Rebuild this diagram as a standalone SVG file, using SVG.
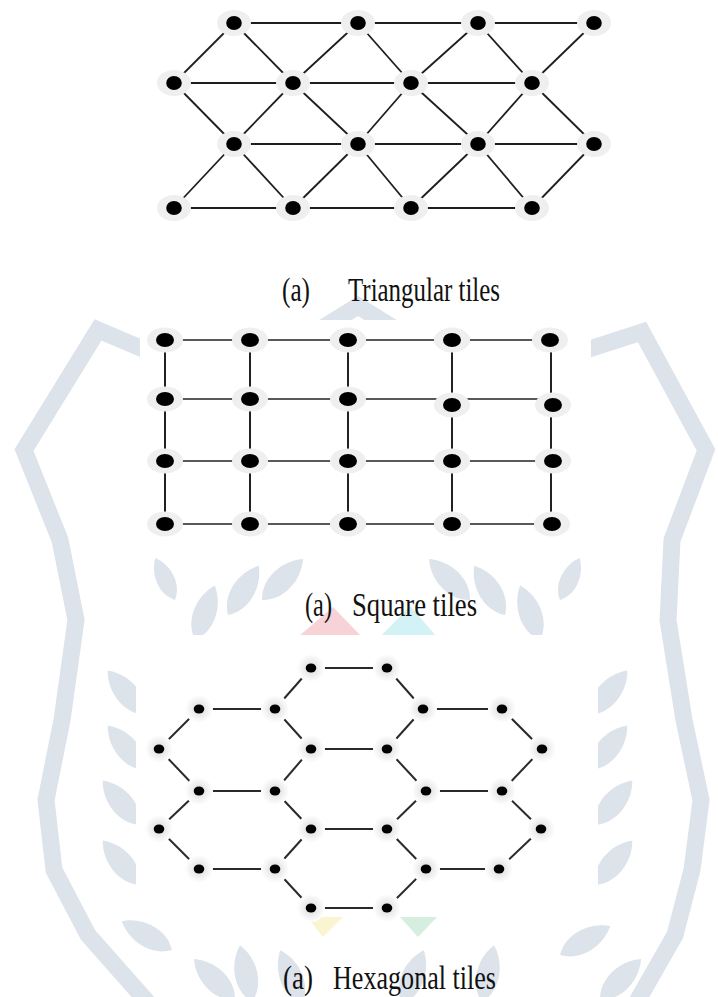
<svg xmlns="http://www.w3.org/2000/svg" width="718" height="997" viewBox="0 0 718 997">
  <style>
    .wm { fill: #dde3ea; }
    .band { fill: none; stroke: #dde3ea; stroke-width: 17; stroke-linejoin: miter; }
    .panel { fill: #ffffff; }
    .tri line { stroke: #1e1e1e; stroke-width: 1.8; }
    .sq line { stroke: #222; stroke-width: 1.4; }
    .sq line.v { stroke-width: 2; }
    .hx line { stroke: #2a2a2a; stroke-width: 2; }
    .halo { fill: #efefef; }
    .dot { fill: #000; }
    .hhalo { fill: url(#hexHalo); }
    .lbl { font-family: "Liberation Serif", "Times New Roman", serif; font-size: 25.5px; fill: #111; }
  </style>
  <defs>
    <radialGradient id="hexHalo">
      <stop offset="0" stop-color="#d8d8d8"/>
      <stop offset="0.55" stop-color="#eeeeee"/>
      <stop offset="1" stop-color="#ffffff"/>
    </radialGradient>
    <path id="leaf" d="M0,0 C-16,-15 -14,-42 0,-58 C14,-42 16,-15 0,0 Z"/>
    <!-- triangular tile node -->
    <g id="tnode"><ellipse class="halo" rx="17" ry="13"/><ellipse class="dot" rx="7.8" ry="7"/></g>
    <!-- square tile node -->
    <g id="snode"><ellipse class="halo" rx="18" ry="12.5"/><ellipse class="dot" rx="9" ry="7"/></g>
    <!-- hexagonal tile node -->
    <g id="hnode"><circle class="hhalo" r="14"/><ellipse class="dot" rx="5.3" ry="4.5"/></g>
  </defs>

  <rect width="718" height="997" fill="#ffffff"/>

  <!-- faint crest in the background -->
  <g id="crest">
    <path class="band" d="M150,352 L98,330 L24,450 L60,540 L76,620 L62,720 L46,800 L54,870 L88,935 L150,1005"/>
    <path class="band" d="M580,352 L642,332 L706,450 L672,540 L668,620 L684,720 L701,800 L692,870 L675,935 L635,1005"/>
    <path class="band" d="M150,352 L300,342 L358,306 L416,342 L580,352"/>
    <g class="wm">
      <!-- left laurel -->
      <use href="#leaf" transform="translate(145,715) rotate(-40)"/>
      <use href="#leaf" transform="translate(145,770) rotate(-40)"/>
      <use href="#leaf" transform="translate(140,825) rotate(-40)"/>
      <use href="#leaf" transform="translate(140,885) rotate(-40)"/>
      <use href="#leaf" transform="translate(172,950) rotate(-60)"/>
      <use href="#leaf" transform="translate(235,1000) rotate(-45)"/>
      <use href="#leaf" transform="translate(252,1002) rotate(-12)"/>
      <use href="#leaf" transform="translate(302,1004) rotate(-22)"/>
      <use href="#leaf" transform="translate(195,640) rotate(20)"/>
      <use href="#leaf" transform="translate(228,615) rotate(32)"/>
      <use href="#leaf" transform="translate(262,600) rotate(45)"/>
      <use href="#leaf" transform="translate(175,600) rotate(-25) scale(0.8)"/>
      <!-- right laurel -->
      <use href="#leaf" transform="translate(590,715) rotate(40)"/>
      <use href="#leaf" transform="translate(590,770) rotate(40)"/>
      <use href="#leaf" transform="translate(595,825) rotate(40)"/>
      <use href="#leaf" transform="translate(595,885) rotate(40)"/>
      <use href="#leaf" transform="translate(560,955) rotate(60)"/>
      <use href="#leaf" transform="translate(600,1000) rotate(45)"/>
      <use href="#leaf" transform="translate(482,1002) rotate(12)"/>
      <use href="#leaf" transform="translate(402,1004) rotate(22)"/>
      <use href="#leaf" transform="translate(540,640) rotate(-20)"/>
      <use href="#leaf" transform="translate(505,615) rotate(-32)"/>
      <use href="#leaf" transform="translate(470,600) rotate(-45)"/>
      <use href="#leaf" transform="translate(560,600) rotate(25) scale(0.8)"/>
    </g>
    <polygon points="298,637 333,607 362,637" fill="#f7d3d8"/>
    <polygon points="380,637 410,606 437,637" fill="#d3f2f6"/>
    <polygon points="307,917 343,917 323,937" fill="#faf5d0"/>
    <polygon points="400,917 437,917 418,937" fill="#d5eedf"/>
  </g>

  <!-- white backing panels -->
  <rect class="panel" x="140" y="320" width="451" height="225"/>
  <rect class="panel" x="136" y="635" width="462" height="282"/>

  <!-- triangular tiling -->
  <g id="triangular" class="tri">
    <g id="tri-connectors">
      <line x1="234" y1="23" x2="594" y2="23"/>
      <line x1="174" y1="83" x2="532" y2="83"/>
      <line x1="234" y1="144" x2="594" y2="144"/>
      <line x1="174" y1="208" x2="532" y2="208"/>
      <line x1="234" y1="23" x2="174" y2="83"/>
      <line x1="234" y1="23" x2="293" y2="83"/>
      <line x1="358" y1="23" x2="293" y2="83"/>
      <line x1="358" y1="23" x2="411" y2="83"/>
      <line x1="478" y1="23" x2="411" y2="83"/>
      <line x1="478" y1="23" x2="532" y2="83"/>
      <line x1="594" y1="23" x2="532" y2="83"/>
      <line x1="174" y1="83" x2="234" y2="144"/>
      <line x1="293" y1="83" x2="234" y2="144"/>
      <line x1="293" y1="83" x2="358" y2="144"/>
      <line x1="411" y1="83" x2="358" y2="144"/>
      <line x1="411" y1="83" x2="478" y2="144"/>
      <line x1="532" y1="83" x2="478" y2="144"/>
      <line x1="532" y1="83" x2="594" y2="144"/>
      <line x1="234" y1="144" x2="174" y2="208"/>
      <line x1="234" y1="144" x2="293" y2="208"/>
      <line x1="358" y1="144" x2="293" y2="208"/>
      <line x1="358" y1="144" x2="411" y2="208"/>
      <line x1="478" y1="144" x2="411" y2="208"/>
      <line x1="478" y1="144" x2="532" y2="208"/>
      <line x1="594" y1="144" x2="532" y2="208"/>
    </g>
    <g id="tri-nodes">
      <use href="#tnode" x="234" y="23"/><use href="#tnode" x="358" y="23"/><use href="#tnode" x="478" y="23"/><use href="#tnode" x="594" y="23"/>
      <use href="#tnode" x="174" y="83"/><use href="#tnode" x="293" y="83"/><use href="#tnode" x="411" y="83"/><use href="#tnode" x="532" y="83"/>
      <use href="#tnode" x="234" y="144"/><use href="#tnode" x="358" y="144"/><use href="#tnode" x="478" y="144"/><use href="#tnode" x="594" y="144"/>
      <use href="#tnode" x="174" y="208"/><use href="#tnode" x="293" y="208"/><use href="#tnode" x="411" y="208"/><use href="#tnode" x="532" y="208"/>
    </g>
  </g>
  <g id="label-triangular" class="lbl">
    <text transform="translate(282,301) scale(1,1.3)" textLength="28" lengthAdjust="spacingAndGlyphs">(a)</text>
    <text transform="translate(348,301) scale(1,1.3)" textLength="152" lengthAdjust="spacingAndGlyphs">Triangular tiles</text>
  </g>

  <!-- square tiling -->
  <g id="square" class="sq">
    <g id="sq-connectors">
      <line x1="165" y1="340" x2="550" y2="340"/>
      <line x1="165" y1="399" x2="553" y2="399"/>
      <line x1="165" y1="461" x2="553" y2="461"/>
      <line x1="165" y1="524" x2="552" y2="524"/>
      <line class="v" x1="165" y1="340" x2="165" y2="524"/>
      <line class="v" x1="250" y1="340" x2="250" y2="524"/>
      <line class="v" x1="348" y1="340" x2="348" y2="524"/>
      <line class="v" x1="452" y1="340" x2="452" y2="524"/>
      <line class="v" x1="551" y1="340" x2="551" y2="524"/>
    </g>
    <g id="sq-nodes">
      <use href="#snode" x="165" y="340"/><use href="#snode" x="250" y="340"/><use href="#snode" x="348" y="340"/><use href="#snode" x="452" y="340"/><use href="#snode" x="550" y="340"/>
      <use href="#snode" x="165" y="399"/><use href="#snode" x="250" y="399"/><use href="#snode" x="348" y="399"/><use href="#snode" x="452" y="405"/><use href="#snode" x="553" y="405"/>
      <use href="#snode" x="165" y="461"/><use href="#snode" x="250" y="461"/><use href="#snode" x="348" y="461"/><use href="#snode" x="452" y="461"/><use href="#snode" x="553" y="461"/>
      <use href="#snode" x="165" y="524"/><use href="#snode" x="250" y="524"/><use href="#snode" x="348" y="524"/><use href="#snode" x="452" y="524"/><use href="#snode" x="552" y="524"/>
    </g>
  </g>
  <g id="label-square" class="lbl">
    <text transform="translate(305,616) scale(1,1.3)" textLength="27" lengthAdjust="spacingAndGlyphs">(a)</text>
    <text transform="translate(352,616) scale(1,1.3)" textLength="125" lengthAdjust="spacingAndGlyphs">Square tiles</text>
  </g>

  <!-- hexagonal tiling -->
  <g id="hexagonal" class="hx">
    <g id="hx-connectors">
      <line x1="311" y1="668" x2="387" y2="668"/>
      <line x1="311" y1="668" x2="275" y2="709"/>
      <line x1="387" y1="668" x2="423" y2="709"/>
      <line x1="199" y1="709" x2="275" y2="709"/>
      <line x1="423" y1="709" x2="502" y2="709"/>
      <line x1="199" y1="709" x2="159" y2="749"/>
      <line x1="275" y1="709" x2="311" y2="749"/>
      <line x1="423" y1="709" x2="387" y2="749"/>
      <line x1="502" y1="709" x2="542" y2="749"/>
      <line x1="311" y1="749" x2="387" y2="749"/>
      <line x1="159" y1="749" x2="199" y2="791"/>
      <line x1="311" y1="749" x2="275" y2="791"/>
      <line x1="387" y1="749" x2="426" y2="791"/>
      <line x1="542" y1="749" x2="502" y2="791"/>
      <line x1="199" y1="791" x2="275" y2="791"/>
      <line x1="426" y1="791" x2="502" y2="791"/>
      <line x1="199" y1="791" x2="159" y2="829"/>
      <line x1="275" y1="791" x2="311" y2="829"/>
      <line x1="426" y1="791" x2="387" y2="829"/>
      <line x1="502" y1="791" x2="541" y2="829"/>
      <line x1="311" y1="829" x2="387" y2="829"/>
      <line x1="159" y1="829" x2="199" y2="869"/>
      <line x1="311" y1="829" x2="275" y2="869"/>
      <line x1="387" y1="829" x2="426" y2="869"/>
      <line x1="541" y1="829" x2="499" y2="869"/>
      <line x1="199" y1="869" x2="275" y2="869"/>
      <line x1="426" y1="869" x2="499" y2="869"/>
      <line x1="275" y1="869" x2="311" y2="908"/>
      <line x1="426" y1="869" x2="387" y2="908"/>
      <line x1="311" y1="908" x2="387" y2="908"/>
    </g>
    <g id="hx-nodes">
      <use href="#hnode" x="311" y="668"/><use href="#hnode" x="387" y="668"/>
      <use href="#hnode" x="199" y="709"/><use href="#hnode" x="275" y="709"/><use href="#hnode" x="423" y="709"/><use href="#hnode" x="502" y="709"/>
      <use href="#hnode" x="159" y="749"/><use href="#hnode" x="311" y="749"/><use href="#hnode" x="387" y="749"/><use href="#hnode" x="542" y="749"/>
      <use href="#hnode" x="199" y="791"/><use href="#hnode" x="275" y="791"/><use href="#hnode" x="426" y="791"/><use href="#hnode" x="502" y="791"/>
      <use href="#hnode" x="159" y="829"/><use href="#hnode" x="311" y="829"/><use href="#hnode" x="387" y="829"/><use href="#hnode" x="541" y="829"/>
      <use href="#hnode" x="199" y="869"/><use href="#hnode" x="275" y="869"/><use href="#hnode" x="426" y="869"/><use href="#hnode" x="499" y="869"/>
      <use href="#hnode" x="311" y="908"/><use href="#hnode" x="387" y="908"/>
    </g>
  </g>
  <g id="label-hexagonal" class="lbl">
    <text transform="translate(283,989) scale(1,1.3)" textLength="30" lengthAdjust="spacingAndGlyphs">(a)</text>
    <text transform="translate(333,989) scale(1,1.3)" textLength="163" lengthAdjust="spacingAndGlyphs">Hexagonal tiles</text>
  </g>
</svg>
